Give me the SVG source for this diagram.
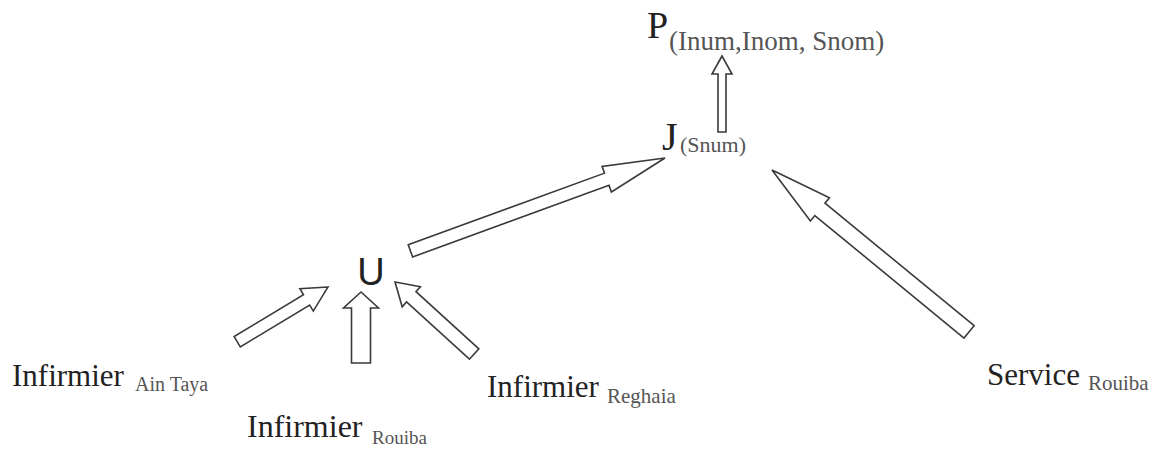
<svg xmlns="http://www.w3.org/2000/svg" width="1156" height="449" viewBox="0 0 1156 449">
<style>
.bg{fill:#ffffff}
.arrow{fill:#ffffff;stroke:#3a3a3a;stroke-width:1.6;stroke-linejoin:miter}
.lbl{font-family:'Liberation Serif','DejaVu Serif',serif;fill:#222222}
.sub{font-family:'Liberation Serif','DejaVu Serif',serif;fill:#555555}
.sans{font-family:'Liberation Sans','DejaVu Sans',sans-serif;fill:#222222}
</style>
<rect class="bg" x="0" y="0" width="1156" height="449"/>
<g id="connectors">
  <polygon class="arrow" transform="translate(328,287) rotate(-31.1)" points="0,0 -25,-13 -25,-6 -106,-6 -106,6 -25,6 -25,13"/>
  <polygon class="arrow" transform="translate(361,292) rotate(-90)" points="0,0 -16,-17.5 -16,-9.5 -71,-9.5 -71,9.5 -16,9.5 -16,17.5"/>
  <polygon class="arrow" transform="translate(395,282) rotate(-137.7)" points="0,0 -22,-13.5 -22,-7 -107,-7 -107,7 -22,7 -22,13.5"/>
  <polygon class="arrow" transform="translate(665,158) rotate(-20.04)" points="0,0 -62,-13.6 -62,-6.5 -271,-6.5 -271,6.5 -62,6.5 -62,13.6"/>
  <polygon class="arrow" transform="translate(772,170) rotate(-140.6)" points="0,0 -62,-15 -62,-8 -255,-8 -255,8 -62,8 -62,15"/>
  <polygon class="arrow" transform="translate(722,56) rotate(-90)" points="0,0 -18,-10 -18,-4 -76,-4 -76,4 -18,4 -18,10"/>
</g>
<g id="node-P">
  <text class="lbl" font-family="Liberation Serif, serif" x="647" y="38" font-size="38">P</text>
  <text class="sub" font-family="Liberation Serif, serif" x="669" y="50" font-size="27">(Inum,Inom, Snom)</text>
</g>
<g id="node-J">
  <text class="lbl" font-family="Liberation Serif, serif" x="662" y="150" font-size="40">J</text>
  <text class="sub" font-family="Liberation Serif, serif" x="680" y="152" font-size="22">(Snum)</text>
</g>
<g id="node-U">
  <text class="sans" x="371" y="285" font-size="38" text-anchor="middle">U</text>
</g>
<g id="node-infirmier-ain-taya">
  <text class="lbl" font-family="Liberation Serif, serif" x="12" y="386" font-size="31">Infirmier</text>
  <text class="sub" font-family="Liberation Serif, serif" x="135" y="391" font-size="20">Ain Taya</text>
</g>
<g id="node-infirmier-rouiba">
  <text class="lbl" font-family="Liberation Serif, serif" x="247" y="437" font-size="32">Infirmier</text>
  <text class="sub" font-family="Liberation Serif, serif" x="372" y="444" font-size="19">Rouiba</text>
</g>
<g id="node-infirmier-reghaia">
  <text class="lbl" font-family="Liberation Serif, serif" x="487" y="397" font-size="31">Infirmier</text>
  <text class="sub" font-family="Liberation Serif, serif" x="607" y="403" font-size="21">Reghaia</text>
</g>
<g id="node-service-rouiba">
  <text class="lbl" font-family="Liberation Serif, serif" x="987" y="385" font-size="31">Service</text>
  <text class="sub" font-family="Liberation Serif, serif" x="1088" y="390" font-size="21">Rouiba</text>
</g>
</svg>
